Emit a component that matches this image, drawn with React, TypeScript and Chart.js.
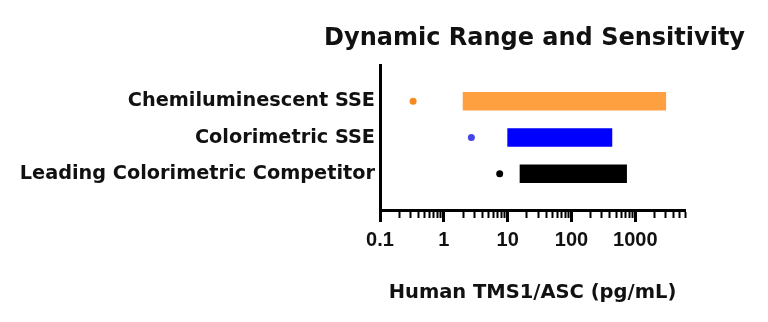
import React, { useEffect, useRef } from 'react';
import { Chart, registerables } from 'chart.js';

Chart.register(...registerables);

const categories = ['Chemiluminescent SSE', 'Colorimetric SSE', 'Leading Colorimetric Competitor'];
const rangeLow = [2, 10, 15.6];
const rangeHigh = [3000, 430, 730];
const sensitivity = [0.33, 2.7, 7.5];
const barColors = ['#FFA040', '#0000FF', '#000000'];
const dotColors = ['#F58A1F', '#4646E6', '#000000'];
const majorTickValues = [0.1, 1, 10, 100, 1000];
const majorTickLabels = ['0.1', '1', '10', '100', '1000'];
const minorMultipliers = [2, 3, 4, 5, 6, 7, 8, 9];
const xMin = 0.1;
const xMax = 6000;
const chartTitle = 'Dynamic Range and Sensitivity';
const xAxisTitle = 'Human TMS1/ASC (pg/mL)';

const yLabels = ['', ...categories, ''];

const tickValues: number[] = [];
majorTickValues.forEach((m) => {
  tickValues.push(m);
  minorMultipliers.forEach((k) => {
    const v = parseFloat((m * k).toPrecision(6));
    if (v <= xMax) tickValues.push(v);
  });
});

const majorIndex = (v: number) =>
  majorTickValues.findIndex((m) => Math.abs(m - v) < m * 1e-6);

const TEXT = '#111111';
const labelFont = { family: 'DejaVu Sans', size: 19.3, weight: 'bold' as const };

export default function App() {
  const ref = useRef<HTMLCanvasElement>(null);

  useEffect(() => {
    if (!ref.current) return;
    const chart = new Chart(ref.current, {
      type: 'bar',
      data: {
        labels: yLabels,
        datasets: [
          {
            type: 'bar',
            label: 'Range',
            data: [null, ...categories.map((_, i) => [rangeLow[i], rangeHigh[i]]), null] as any,
            backgroundColor: ['transparent', ...barColors, 'transparent'],
            borderWidth: 0,
            barThickness: 18,
            xAxisID: 'x',
            yAxisID: 'y',
          } as any,
          {
            type: 'scatter',
            label: 'Sensitivity',
            data: categories.map((c, i) => ({ x: sensitivity[i], y: c })) as any,
            pointBackgroundColor: dotColors,
            pointBorderWidth: 0,
            pointRadius: 3.5,
            xAxisID: 'x',
            yAxisID: 'y',
          } as any,
        ],
      },
      options: {
        animation: false,
        responsive: false,
        maintainAspectRatio: false,
        devicePixelRatio: 1,
        indexAxis: 'y',
        layout: { padding: { left: 0, right: 23, top: 0, bottom: 0 } },
        scales: {
          x: {
            type: 'logarithmic',
            position: 'bottom',
            min: xMin,
            max: xMax,
            afterBuildTicks: (s: any) => {
              s.ticks = tickValues.map((v) => ({ value: v }));
            },
            afterFit: (s: any) => {
              s.height = 112;
            },
            border: { display: true, color: '#000', width: 3 },
            grid: {
              display: true,
              drawOnChartArea: false,
              drawTicks: true,
              tickLength: 12,
              tickColor: '#000',
              tickWidth: (ctx: any) => (ctx.tick && majorIndex(ctx.tick.value) >= 0 ? 3 : 2),
              tickBorderDash: (ctx: any) => (ctx.tick && majorIndex(ctx.tick.value) >= 0 ? [] : [6, 40]),
            } as any,
            ticks: {
              autoSkip: false,
              maxRotation: 0,
              minRotation: 0,
              padding: 6,
              color: TEXT,
              font: { family: 'Liberation Sans', size: 20, weight: 'bold' },
              callback: (v: any) => {
                const i = majorIndex(Number(v));
                return i >= 0 ? majorTickLabels[i] : '';
              },
            },
            title: {
              display: true,
              text: xAxisTitle,
              color: TEXT,
              font: { family: 'DejaVu Sans', size: 19.5, weight: 'bold' },
              padding: { top: 0, bottom: 17 },
            },
          },
          y: {
            type: 'category',
            labels: yLabels,
            offset: false,
            position: 'left',
            afterFit: (s: any) => {
              s.width = 380;
            },
            grid: { display: false, drawTicks: false },
            border: { display: true, color: '#000', width: 3 },
            ticks: { autoSkip: false, padding: 5, color: TEXT, font: labelFont },
          },
          y2: {
            type: 'linear',
            position: 'right',
            display: true,
            afterFit: (s: any) => {
              s.width = 60;
            },
            grid: { display: false, drawTicks: false },
            border: { display: false },
            ticks: { display: false },
          },
        },
        plugins: {
          legend: { display: false },
          tooltip: { enabled: false },
          title: {
            display: true,
            align: 'end',
            text: chartTitle,
            color: TEXT,
            font: { family: 'DejaVu Sans', size: 24, weight: 'bold' },
            padding: { top: 24.5, bottom: 11.7 },
          },
        },
      } as any,
    });
    return () => chart.destroy();
  }, []);

  return (
    <div style={{ position: 'fixed', left: 0, top: 0, width: 768, height: 322, background: '#fff' }}>
      <canvas ref={ref} width={768} height={322} />
    </div>
  );
}
